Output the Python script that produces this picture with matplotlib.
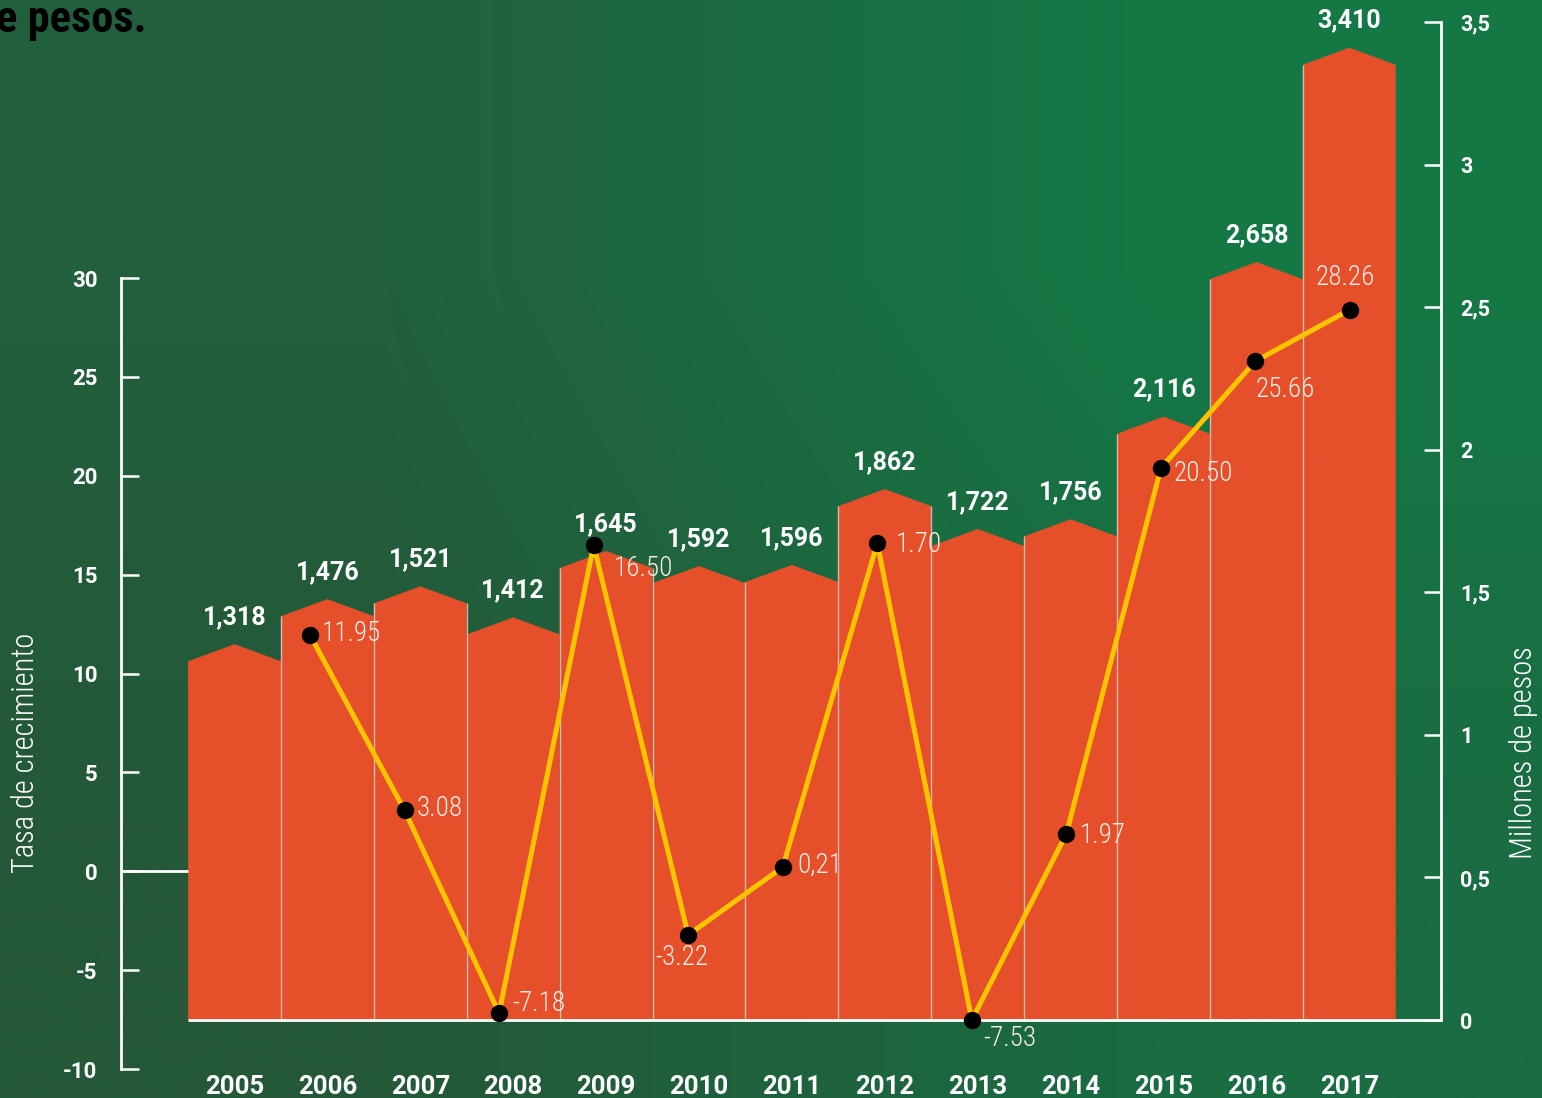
import numpy as np
import matplotlib
matplotlib.use("Agg")
import matplotlib.pyplot as plt
from matplotlib.patches import Polygon
from matplotlib.colors import to_rgb

# data
years = ['2005', '2006', '2007', '2008', '2009', '2010', '2011',
         '2012', '2013', '2014', '2015', '2016', '2017']
ventas = [1318, 1476, 1521, 1412, 1645, 1592, 1596,
          1862, 1722, 1756, 2116, 2658, 3410]          # miles -> millones
tasa = [np.nan, 11.95, 3.08, -7.18, 16.5, -3.22, 0.21,
        16.6, -7.53, 1.9, 20.4, 25.8, 28.4]
tasa_labels = ['', '11.95', '3.08', '-7.18', '16.50', '-3.22', '0,21',
               '1.70', '-7.53', '1.97', '20.50', '25.66', '28.26']
left_ticks = [-10, -5, 0, 5, 10, 15, 20, 25, 30]
right_ticks = [0, 0.5, 1, 1.5, 2, 2.5, 3, 3.5]
right_tick_labels = ['0', '0,5', '1', '1,5', '2', '2,5', '3', '3,5']

plt.rcParams['font.family'] = ['Roboto', 'DejaVu Sans']
plt.rcParams['axes.unicode_minus'] = False
COND = ['Roboto Condensed', 'DejaVu Sans']

BAR = '#E5502A'
LINE = '#FFC400'
WHITE = 'white'

fig = plt.figure(figsize=(15.42, 10.98), dpi=100)

# background gradient
bg = fig.add_axes([0, 0, 1, 1], zorder=-10)
corners = np.array([[to_rgb('#22603D'), to_rgb('#147845')],
                    [to_rgb('#245838'), to_rgb('#1A6C42')]])
bg.imshow(corners, extent=[0, 1, 0, 1], aspect='auto', interpolation='bilinear')
bg.set_axis_off()

rect = [121 / 1542, 1 - 1069 / 1098, (1441 - 121) / 1542, (1069 - 22) / 1098]

# bars (right axis)
axb = fig.add_axes(rect)
axb.patch.set_alpha(0)
xmax = 12.987
d = 0.06
vals = [v / 1000 for v in ventas]
for i, v in enumerate(vals):
    poly = Polygon([(i - 0.5, 0), (i - 0.5, v - d), (i, v), (i + 0.5, v - d), (i + 0.5, 0)],
                   closed=True, facecolor=BAR, edgecolor='none', zorder=2)
    axb.add_patch(poly)
    axb.text(i, v + 0.095, f'{ventas[i]:,}', ha='center', va='center',
             color=WHITE, fontsize=18, fontweight='bold')
for i in range(len(vals) - 1):
    axb.vlines(i + 0.5, 0, max(vals[i], vals[i + 1]) - d, color='#D8CCC6',
               lw=1, alpha=0.85, zorder=3)
axb.plot([-0.5, xmax], [0, 0], color=WHITE, lw=2, zorder=4, solid_capstyle='butt')
axb.set_xlim(-1.222, xmax)
axb.set_ylim(-0.1718, 3.5)
for s in ['left', 'top', 'bottom']:
    axb.spines[s].set_visible(False)
axb.spines['right'].set_color(WHITE)
axb.spines['right'].set_linewidth(2)
axb.spines['right'].set_bounds(0, 3.5)
axb.yaxis.tick_right()
axb.set_yticks(right_ticks, right_tick_labels)
axb.tick_params(axis='y', direction='in', length=12.5, width=1.8, color=WHITE,
                pad=14, labelsize=15.5, labelcolor=WHITE)
for t in axb.get_yticklabels():
    t.set_fontweight('bold')
axb.set_xticks(range(len(years)), years)
axb.tick_params(axis='x', length=0, pad=4, labelsize=18.5, labelcolor=WHITE)
for t in axb.get_xticklabels():
    t.set_fontweight('bold')

# growth line (left axis), its points sit a bit off the bar centres
axl = fig.add_axes(rect)
axl.patch.set_alpha(0)
x = np.arange(len(years))
axl.plot(x, tasa, color=LINE, lw=3.6, zorder=5)
axl.plot(x, tasa, 'o', color='black', ms=11.5, zorder=6)
axl.plot([0, 67 / 1320], [0, 0], color=WHITE, lw=2, solid_capstyle='butt',
         transform=axl.get_yaxis_transform())
offsets = [None, (12, 1, 'left'), (12, 2, 'left'), (13, 10, 'left'), (20, -24, 'left'),
           (-6, -23, 'center'), (15, 2, 'left'), (18, -2, 'left'), (11, -18, 'left'),
           (13, -2, 'left'), (13, -6, 'left'), (0, -28, 'left'), (-5, 32, 'center')]
for i, lab in enumerate(tasa_labels):
    if not lab:
        continue
    dx, dy, ha = offsets[i]
    axl.annotate(lab, (x[i], tasa[i]), xytext=(dx / 1.389, dy / 1.389),
                 textcoords='offset points', ha=ha, va='center',
                 color='#FDEEE8', fontsize=19.5, family=COND, fontweight='light', zorder=7)
axl.set_xlim(-0.999, 12.962)
axl.set_ylim(-10, 42.946)
for s in ['right', 'top', 'bottom']:
    axl.spines[s].set_visible(False)
axl.spines['left'].set_color(WHITE)
axl.spines['left'].set_linewidth(2)
axl.spines['left'].set_bounds(-10, 30)
axl.set_yticks(left_ticks)
axl.tick_params(axis='y', direction='in', length=13, width=1.8, color=WHITE,
                pad=17, labelsize=16, labelcolor=WHITE)
for t in axl.get_yticklabels():
    t.set_fontweight('bold')
axl.tick_params(axis='x', bottom=False, labelbottom=False)

# texts
fig.text(25 / 1542, 1 - 753 / 1098, 'Tasa de crecimiento', rotation=90, ha='center', va='center',
         color=WHITE, fontsize=22, family=COND, fontweight='light')
fig.text(1524 / 1542, 1 - 753 / 1098, 'Millones de pesos', rotation=90, ha='center', va='center',
         color=WHITE, fontsize=22, family=COND, fontweight='light')
fig.text(147 / 1542, 1 - 32 / 1098, 'e pesos.', ha='right', va='baseline',
         color='black', fontsize=32, fontweight='bold', family=COND)

fig.savefig('out.png', dpi=100)
